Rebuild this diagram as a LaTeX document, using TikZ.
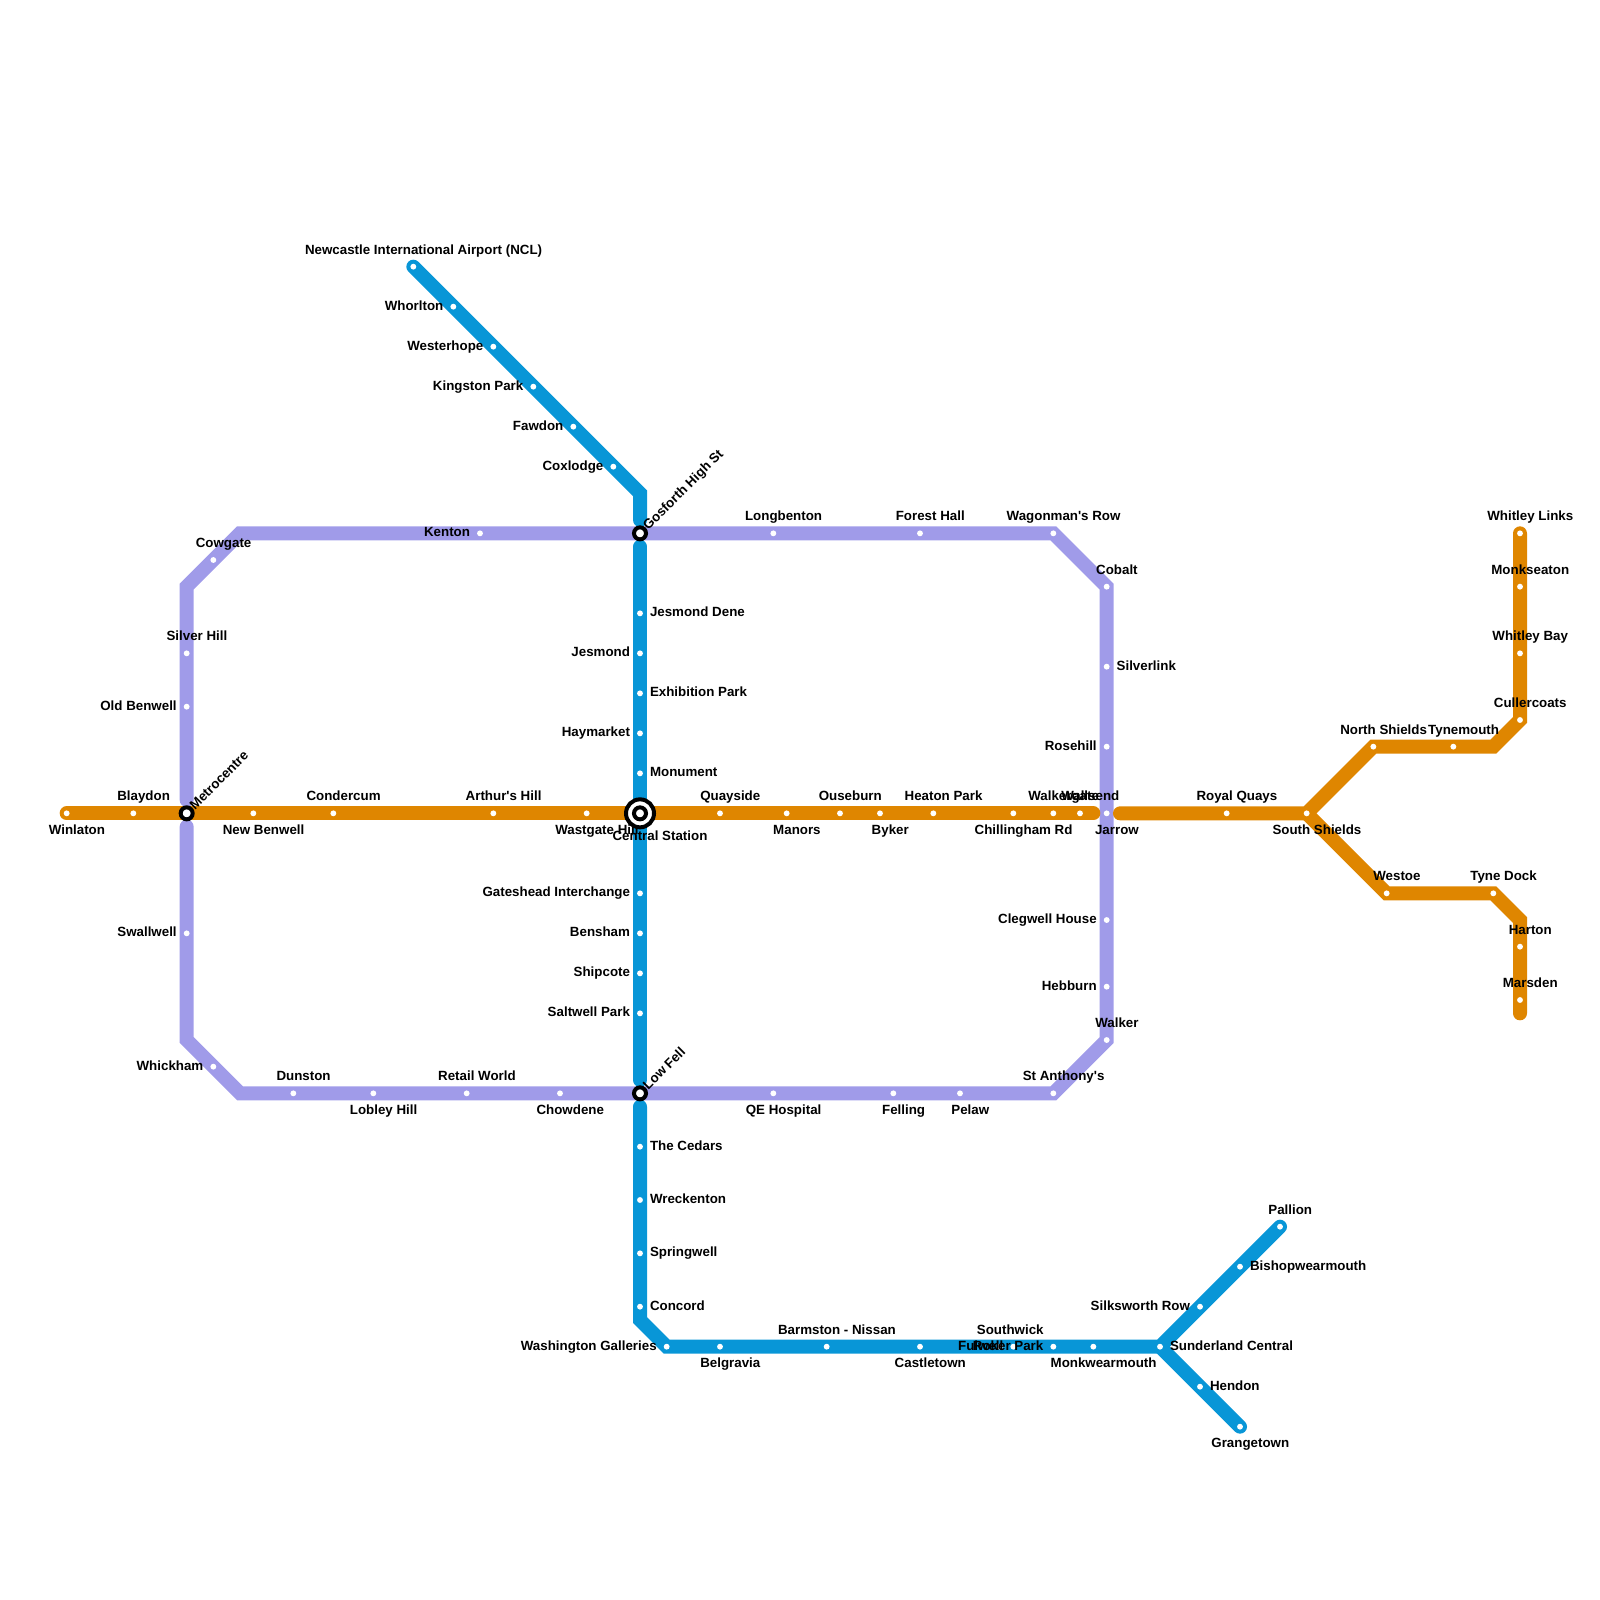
\documentclass[tikz,border=0pt]{standalone}
\usepackage{fontspec}
\newfontfamily\mapfont{Liberation Sans}
\usepackage{xcolor}
\usetikzlibrary{backgrounds}
\definecolor{metroblue}{HTML}{0896D7}
\definecolor{metropurple}{HTML}{A09BE9}
\definecolor{metroorange}{HTML}{DF8600}
\tikzset{
  route/.style={line width=10.5pt, line cap=round, line join=miter},
  stn/.style={circle, fill=white, inner sep=0pt, outer sep=0pt, minimum size=4.4pt},
  hub/.style={circle, draw=black, fill=white, line width=3pt, inner sep=0pt, outer sep=0pt, minimum size=9pt},
  hubout/.style={hub, minimum size=21pt},
  lbl/.style={font=\mapfont\bfseries\fontsize{10pt}{12pt}\selectfont, inner sep=0pt, outer sep=0pt},
  lbla/.style={lbl, anchor=base, xshift=7.7pt, yshift=9.5pt},
  lblb/.style={lbl, anchor=base, xshift=7.7pt, yshift=-15.5pt},
  lbll/.style={lbl, anchor=base east, xshift=-7.5pt, yshift=-2.7pt},
  lblr/.style={lbl, anchor=base west, xshift=7.5pt, yshift=-2.7pt},
  lbld/.style={lbl, anchor=base west, rotate=45, xshift=6pt, yshift=-3pt}
}
\begin{document}
\begin{tikzpicture}[x=10pt,y=-10pt]
\useasboundingbox (0,0) rectangle (120,120);
% labels above
\foreach \id/\x/\y/\t in {blaydon/10/61/Blaydon, condercum/25/61/Condercum, arthurshill/37/61/Arthur's Hill,
  quayside/54/61/Quayside, ouseburn/63/61/Ouseburn, heatonpark/70/61/Heaton Park, walkergate/79/61/Walkergate,
  wallsend/81/61/Wallsend, royalquays/92/61/Royal Quays, northshields/103/56/North Shields, tynemouth/109/56/Tynemouth,
  cullercoats/114/54/Cullercoats, whitleybay/114/49/Whitley Bay, monkseaton/114/44/Monkseaton, whitleylinks/114/40/Whitley Links,
  westoe/104/67/Westoe, tynedock/112/67/Tyne Dock, harton/114/71/Harton, marsden/114/75/Marsden,
  airport/31/20/Newcastle International Airport (NCL), cowgate/16/42/Cowgate, silverhill/14/49/Silver Hill,
  longbenton/58/40/Longbenton, foresthall/69/40/Forest Hall, wagonman/79/40/Wagonman's Row, cobalt/83/44/Cobalt,
  walker/83/78/Walker, stanthony/79/82/St Anthony's, dunston/22/82/Dunston, retailworld/35/82/Retail World,
  barmston/62/101/Barmston - Nissan, southwick/75/101/Southwick, pallion/96/92/Pallion}
  {\node[stn] (\id) at (\x,\y) {}; \node[lbla] (\id-l) at (\id.center) {\t};}
% labels below
\foreach \id/\x/\y/\t in {winlaton/5/61/Winlaton, newbenwell/19/61/New Benwell, wastgatehill/44/61/Wastgate Hill,
  manors/59/61/Manors, byker/66/61/Byker, chillingham/76/61/Chillingham Rd, jarrow/83/61/Jarrow, southshields/98/61/South Shields,
  lobleyhill/28/82/Lobley Hill, chowdene/42/82/Chowdene, qehospital/58/82/QE Hospital, felling/67/82/Felling, pelaw/72/82/Pelaw,
  belgravia/54/101/Belgravia, castletown/69/101/Castletown, monkwearmouth/82/101/Monkwearmouth, grangetown/93/107/Grangetown}
  {\node[stn] (\id) at (\x,\y) {}; \node[lblb] (\id-l) at (\id.center) {\t};}
% labels left
\foreach \id/\x/\y/\t in {whorlton/34/23/Whorlton, westerhope/37/26/Westerhope, kingstonpark/40/29/Kingston Park, fawdon/43/32/Fawdon,
  coxlodge/46/35/Coxlodge, kenton/36/40/Kenton, oldbenwell/14/53/Old Benwell, swallwell/14/70/Swallwell, whickham/16/80/Whickham,
  jesmond/48/49/Jesmond, haymarket/48/55/Haymarket, gateshead/48/67/Gateshead Interchange, bensham/48/70/Bensham, shipcote/48/73/Shipcote,
  saltwellpark/48/76/Saltwell Park, rosehill/83/56/Rosehill, clegwell/83/69/Clegwell House, hebburn/83/74/Hebburn,
  washington/50/101/Washington Galleries, fulwell/76/101/Fulwell, rokerpark/79/101/Roker Park, silksworth/90/98/Silksworth Row}
  {\node[stn] (\id) at (\x,\y) {}; \node[lbll] (\id-l) at (\id.center) {\t};}
% labels right
\foreach \id/\x/\y/\t in {jesmonddene/48/46/Jesmond Dene, exhibitionpark/48/52/Exhibition Park, monument/48/58/Monument, silverlink/83/50/Silverlink,
  thecedars/48/86/The Cedars, wreckenton/48/90/Wreckenton, springwell/48/94/Springwell, concord/48/98/Concord,
  bishopwearmouth/93/95/Bishopwearmouth, sunderland/87/101/Sunderland Central, hendon/90/104/Hendon}
  {\node[stn] (\id) at (\x,\y) {}; \node[lblr] (\id-l) at (\id.center) {\t};}
% interchanges
\foreach \id/\x/\y/\t in {metrocentre/14/61/Metrocentre, gosforth/48/40/Gosforth High St, lowfell/48/82/Low Fell}
  {\node[hub] (\id) at (\x,\y) {}; \node[lbld] (\id-l) at (\id.center) {\t};}
\node[hubout] (centralout) at (48,61) {};
\node[hub] (central) at (48,61) {};
\node[lbl, anchor=base, xshift=15pt, yshift=-20.5pt] (central-l) at (central.center) {Central Station};
% bends and line ends
\foreach \id/\x/\y in {oa/82/61, ob/84/61, oc/112/56, od/114/69, oe/114/76,
  ba/48/37, bb/48/39, bc/48/41, bd/48/81, be/48/83, bf/48/99,
  pa/14/60, pb/14/44, pc/18/40, pd/18/82, pe/14/78, pf/14/62}
  \coordinate (\id) at (\x,\y);
\begin{scope}[on background layer]
\draw[route, metropurple] (pa) -- (pb) -- (pc) -- (wagonman.center) -- (cobalt.center) -- (walker.center) -- (stanthony.center) -- (pd) -- (pe) -- (pf);
\draw[route, metroblue] (airport.center) -- (ba) -- (bb);
\draw[route, metroblue] (bc) -- (bd);
\draw[route, metroblue] (be) -- (bf) -- (washington.center) -- (sunderland.center) -- (pallion.center);
\draw[route, metroblue] (sunderland.center) -- (grangetown.center);
\draw[route, metroorange] (winlaton.center) -- (oa);
\draw[route, metroorange] (ob) -- (southshields.center) -- (northshields.center) -- (oc) -- (cullercoats.center) -- (whitleylinks.center);
\draw[route, metroorange] (southshields.center) -- (westoe.center) -- (tynedock.center) -- (od) -- (oe);
\end{scope}
\end{tikzpicture}
\end{document}
